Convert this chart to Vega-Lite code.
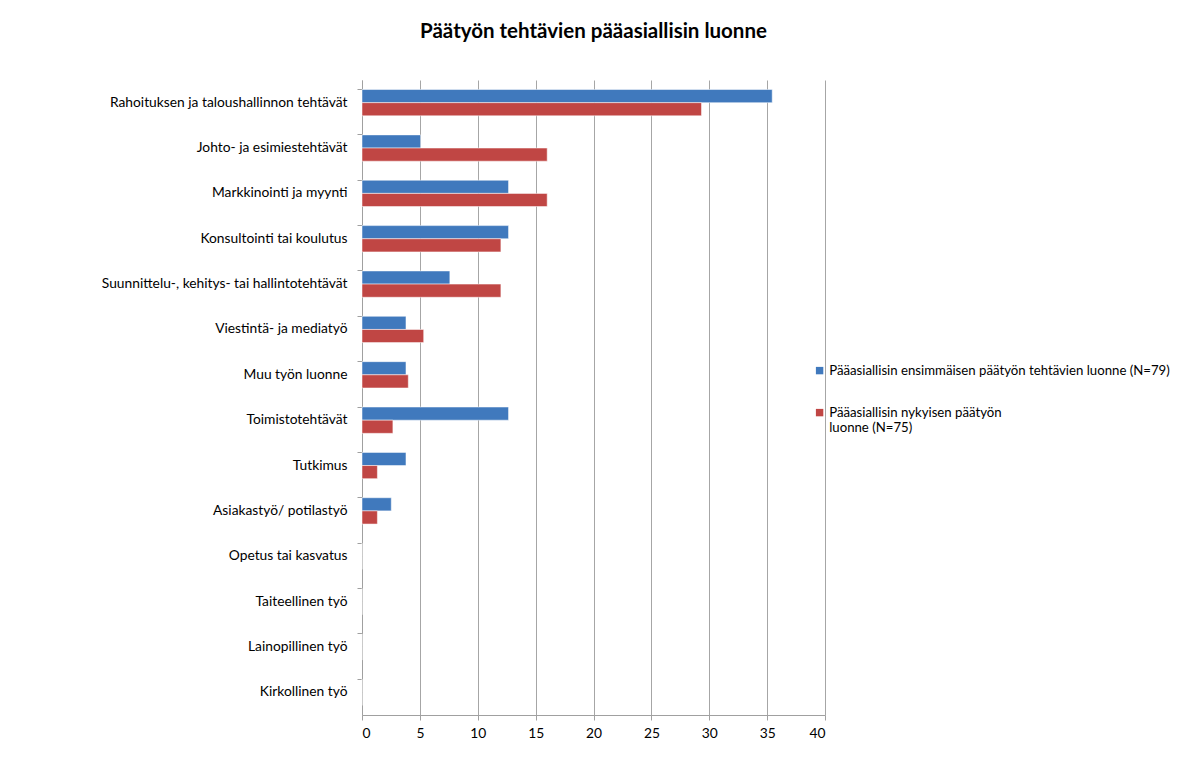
{
  "$schema": "https://vega.github.io/schema/vega-lite/v6.json",
  "width": 463,
  "height": 635,
  "autosize": {"type": "none"},
  "padding": {"left": 362, "top": 80, "right": 361, "bottom": 61},
  "background": "white",
  "title": {
    "text": "Päätyön tehtävien pääasiallisin luonne",
    "font": "Lato",
    "fontSize": 20.5,
    "fontWeight": "bold",
    "color": "#000000",
    "anchor": "middle",
    "offset": 38
  },
  "config": {
    "view": {"stroke": null},
    "font": "Lato"
  },
  "data": {
    "values": [
      {"kategoria": "Rahoituksen ja taloushallinnon tehtävät", "sarja": "A", "arvo": 35.44},
      {"kategoria": "Rahoituksen ja taloushallinnon tehtävät", "sarja": "B", "arvo": 29.33},
      {"kategoria": "Johto- ja esimiestehtävät", "sarja": "A", "arvo": 5.06},
      {"kategoria": "Johto- ja esimiestehtävät", "sarja": "B", "arvo": 16.0},
      {"kategoria": "Markkinointi ja myynti", "sarja": "A", "arvo": 12.66},
      {"kategoria": "Markkinointi ja myynti", "sarja": "B", "arvo": 16.0},
      {"kategoria": "Konsultointi tai koulutus", "sarja": "A", "arvo": 12.66},
      {"kategoria": "Konsultointi tai koulutus", "sarja": "B", "arvo": 12.0},
      {"kategoria": "Suunnittelu-, kehitys- tai hallintotehtävät", "sarja": "A", "arvo": 7.59},
      {"kategoria": "Suunnittelu-, kehitys- tai hallintotehtävät", "sarja": "B", "arvo": 12.0},
      {"kategoria": "Viestintä- ja mediatyö", "sarja": "A", "arvo": 3.8},
      {"kategoria": "Viestintä- ja mediatyö", "sarja": "B", "arvo": 5.33},
      {"kategoria": "Muu työn luonne", "sarja": "A", "arvo": 3.8},
      {"kategoria": "Muu työn luonne", "sarja": "B", "arvo": 4.0},
      {"kategoria": "Toimistotehtävät", "sarja": "A", "arvo": 12.66},
      {"kategoria": "Toimistotehtävät", "sarja": "B", "arvo": 2.67},
      {"kategoria": "Tutkimus", "sarja": "A", "arvo": 3.8},
      {"kategoria": "Tutkimus", "sarja": "B", "arvo": 1.33},
      {"kategoria": "Asiakastyö/ potilastyö", "sarja": "A", "arvo": 2.53},
      {"kategoria": "Asiakastyö/ potilastyö", "sarja": "B", "arvo": 1.33},
      {"kategoria": "Opetus tai kasvatus", "sarja": "A", "arvo": 0},
      {"kategoria": "Opetus tai kasvatus", "sarja": "B", "arvo": 0},
      {"kategoria": "Taiteellinen työ", "sarja": "A", "arvo": 0},
      {"kategoria": "Taiteellinen työ", "sarja": "B", "arvo": 0},
      {"kategoria": "Lainopillinen työ", "sarja": "A", "arvo": 0},
      {"kategoria": "Lainopillinen työ", "sarja": "B", "arvo": 0},
      {"kategoria": "Kirkollinen työ", "sarja": "A", "arvo": 0},
      {"kategoria": "Kirkollinen työ", "sarja": "B", "arvo": 0}
    ]
  },
  "mark": {"type": "bar", "strokeWidth": 1, "strokeOpacity": 0.5, "stroke": "#ffffff"},
  "encoding": {
    "y": {
      "field": "kategoria",
      "type": "nominal",
      "sort": null,
      "scale": {"paddingInner": 0.42, "paddingOuter": 0.21},
      "axis": {
        "title": null,
        "bandPosition": 0,
        "domainColor": "#a0a0a0",
        "tickColor": "#a0a0a0",
        "tickSize": 5,
        "labelPadding": 10,
        "labelFont": "Lato",
        "labelFontSize": 13.8,
        "labelColor": "#000000",
        "labelLimit": 400,
        "grid": false
      }
    },
    "yOffset": {"field": "sarja", "type": "nominal", "sort": ["A", "B"]},
    "x": {
      "field": "arvo",
      "type": "quantitative",
      "scale": {"domain": [0, 40], "nice": false},
      "axis": {
        "title": null,
        "values": [0, 5, 10, 15, 20, 25, 30, 35, 40],
        "grid": true,
        "gridColor": "#a6a6a6",
        "domainColor": "#a0a0a0",
        "tickColor": "#a0a0a0",
        "tickSize": 5,
        "labelPadding": 6,
        "labelFont": "Lato",
        "labelFontSize": 13.8,
        "labelColor": "#000000"
      }
    },
    "color": {
      "field": "sarja",
      "type": "nominal",
      "scale": {"domain": ["A", "B"], "range": ["#4079bd", "#c04644"]},
      "legend": {
        "title": null,
        "orient": "none",
        "legendX": 451,
        "legendY": 284,
        "symbolType": "square",
        "symbolSize": 55,
        "symbolStrokeWidth": 0,
        "labelFont": "Lato",
        "labelFontSize": 13.2,
        "labelColor": "#000000",
        "labelOffset": 3,
        "labelLimit": 500,
        "rowPadding": 28,
        "labelExpr": "datum.value == 'A' ? 'Pääasiallisin ensimmäisen päätyön tehtävien luonne (N=79)' : ['Pääasiallisin nykyisen päätyön', '\u00a0luonne (N=75)']"
      }
    }
  }
}
